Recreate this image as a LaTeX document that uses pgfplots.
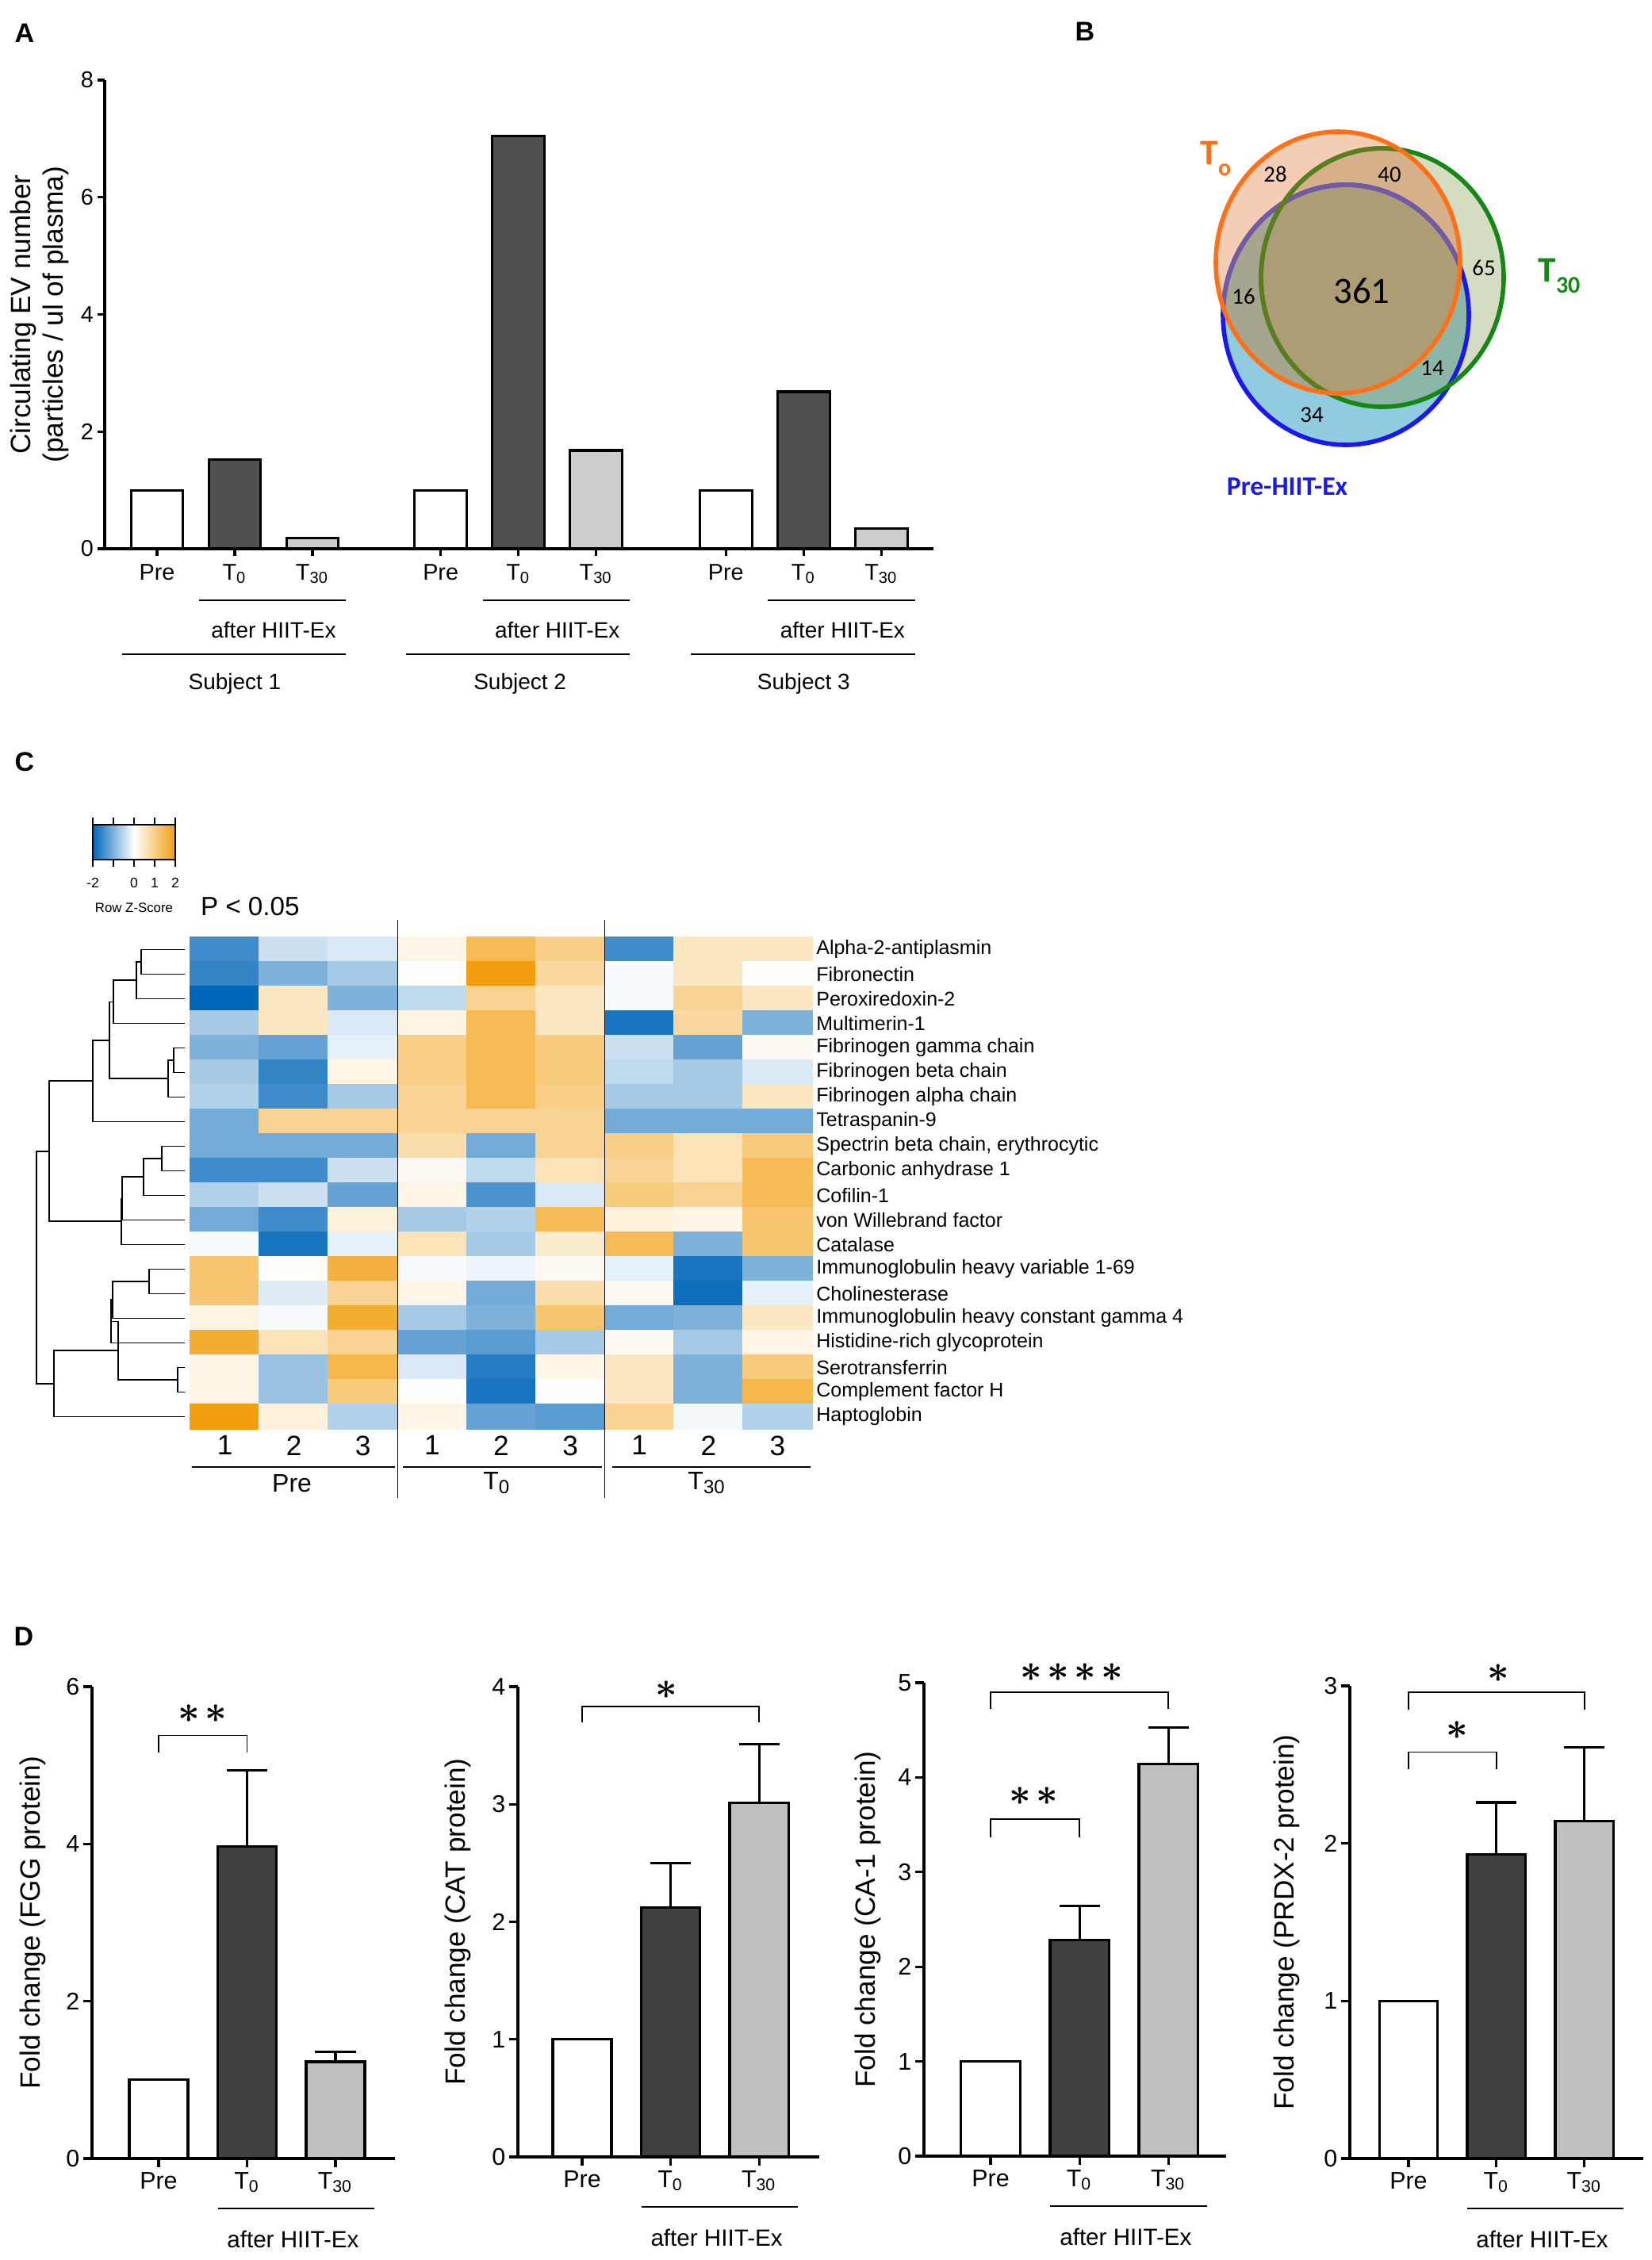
\documentclass[border=0pt]{standalone}
\usepackage{fontspec}
\setmainfont{Liberation Sans}
\newfontfamily\calibri{Carlito}
\usepackage{pgfplots}
\pgfplotsset{compat=1.18}

\definecolor{darkA}{RGB}{80,80,80}
\definecolor{lightA}{RGB}{204,204,204}
\definecolor{darkD}{RGB}{64,64,64}
\definecolor{lightD}{RGB}{191,191,191}
% venn
\definecolor{vO}{RGB}{255,112,24}
\definecolor{vG}{RGB}{22,135,22}
\definecolor{vB}{RGB}{25,25,235}
\definecolor{vBo}{RGB}{115,90,165}
\definecolor{vGo}{RGB}{90,125,32}
\definecolor{fO}{RGB}{243,205,180}
\definecolor{fG}{RGB}{212,221,194}
\definecolor{fB}{RGB}{145,203,224}
\definecolor{fBG}{RGB}{140,183,168}
\definecolor{fBO}{RGB}{166,165,142}
\definecolor{fGO}{RGB}{214,176,136}
\definecolor{fBGO}{RGB}{173,157,117}

\newcommand\fsz[1]{\fontsize{#1}{#1}\selectfont}
\newcommand\sub[1]{\textsubscript{#1}}
\newcommand\st{{\boldmath$\ast$}}
\newcommand\stsp{\hspace{1.6pt}}

\pgfplotsset{
  barax/.style={scale only axis, anchor=south west, ymin=0,
    axis lines=left, axis line style={-, line width=0.8pt},
    tick align=outside, tick style={black, line width=0.8pt},
    yticklabel style={inner sep=1pt},
    /pgf/number format/assume math mode=true,
    clip=false, ybar},
  Dax/.style={barax, major tick length=2.75pt,
    xtick={0,1,2}, xticklabels={Pre,T\sub{0},T\sub{30}},
    ticklabel style={font=\fsz{7.6}},
    xticklabel style={yshift=2pt},
    ylabel style={font=\fsz{8.8}, at={(axis description cs:#1,0.5)}, anchor=center},
    bar width=0.664},
  barline/.style={draw=black, line width=0.8pt, bar shift=0pt},
  errb/.style={error bars/.cd, y dir=plus, y explicit,
    error bar style={line width=0.8pt, black},
    error mark options={rotate=90, mark size=6.4pt, line width=0.8pt, black}},
  dendro/.style={black, line width=0.45pt, mark=none, forget plot},
}

\begin{document}
\begin{tikzpicture}
\useasboundingbox (0,0) rectangle (520.5pt,-712.5pt);

% ---------------- panel letters ----------------
\begin{scope}[x=0.25pt, y=-0.25pt]
\node[font=\bfseries\fsz{8.5}] at (31,42) {A};
\node[font=\bfseries\fsz{8.5}] at (1368,40) {B};
\node[font=\bfseries\fsz{8.5}] at (31,961) {C};
\node[font=\bfseries\fsz{8.5}] at (30,2064) {D};
\end{scope}

% ---------------- A ----------------
\begin{axis}[barax, at={(33pt,-173pt)}, width=261.25pt, height=147.75pt,
  xmin=-0.673, xmax=9.99, ymax=8, ytick={0,2,4,6,8},
  xtick={0,1,2,3.65,4.65,5.65,7.32,8.32,9.32},
  xticklabels={Pre,T\sub{0},T\sub{30},Pre,T\sub{0},T\sub{30},Pre,T\sub{0},T\sub{30}},
  major tick length=2.3pt, ticklabel style={font=\fsz{7.2}},
  xticklabel style={yshift=1pt},
  bar width=0.67,
  ylabel={Circulating EV number\\(particles / ul of plasma)},
  ylabel style={align=center, font=\fontsize{8.8}{10.2}\selectfont,
    at={(axis description cs:-0.0785,0.5)}, anchor=center}]
\addplot[barline, fill=white] coordinates {(0,1) (3.65,1) (7.32,1)};
\addplot[barline, fill=darkA] coordinates {(1,1.52) (4.65,7.05) (8.32,2.68)};
\addplot[barline, fill=lightA] coordinates {(2,0.18) (5.65,1.68) (9.32,0.35)};
\draw[line width=0.45pt] (axis cs:0.54,-0.88) -- (axis cs:2.43,-0.88);
\draw[line width=0.45pt] (axis cs:4.19,-0.88) -- (axis cs:6.08,-0.88);
\draw[line width=0.45pt] (axis cs:7.86,-0.88) -- (axis cs:9.75,-0.88);
\draw[line width=0.45pt] (axis cs:-0.45,-1.80) -- (axis cs:2.43,-1.80);
\draw[line width=0.45pt] (axis cs:3.20,-1.80) -- (axis cs:6.08,-1.80);
\draw[line width=0.45pt] (axis cs:6.87,-1.80) -- (axis cs:9.75,-1.80);
\node[font=\fsz{7}] at (axis cs:1.5,-1.39) {after HIIT-Ex};
\node[font=\fsz{7}] at (axis cs:5.15,-1.39) {after HIIT-Ex};
\node[font=\fsz{7}] at (axis cs:8.82,-1.39) {after HIIT-Ex};
\node[font=\fsz{7}] at (axis cs:1.0,-2.31) {Subject 1};
\node[font=\fsz{7}] at (axis cs:4.67,-2.31) {Subject 2};
\node[font=\fsz{7}] at (axis cs:8.32,-2.31) {Subject 3};
\end{axis}

% ---------------- B (Venn) ----------------
\begin{axis}[at={(362.5pt,-162.5pt)}, anchor=south west, scale only axis,
  width=150pt, height=125pt, xmin=1450, xmax=2050, ymin=150, ymax=650,
  y dir=reverse, hide axis, clip=false]
\def\eB{(axis cs:1697,397) ellipse [x radius=155, y radius=164]}
\def\eG{(axis cs:1743,350) ellipse [x radius=153, y radius=163]}
\def\eO{(axis cs:1687,331) ellipse [x radius=154, y radius=165]}
\fill[fB] \eB;
\fill[fG] \eG;
\fill[fO] \eO;
\begin{scope}\clip \eB; \fill[fBG] \eG; \end{scope}
\begin{scope}\clip \eB; \fill[fBO] \eO; \end{scope}
\begin{scope}\clip \eG; \fill[fGO] \eO; \end{scope}
\begin{scope}\clip \eB; \clip \eG; \fill[fBGO] \eO; \end{scope}
\draw[vB, line width=1.4pt] \eB;
\begin{scope}\clip \eO; \draw[vBo, line width=1.4pt] \eB; \end{scope}
\draw[vG, line width=1.4pt] \eG;
\begin{scope}\clip \eO; \draw[vGo, line width=1.4pt] \eG; \end{scope}
\draw[vO, line width=1.4pt] \eO;
\node[font=\calibri\fsz{7.2}] at (axis cs:1608,220) {28};
\node[font=\calibri\fsz{7.2}] at (axis cs:1752,220) {40};
\node[font=\calibri\fsz{11.7}] at (axis cs:1717,367) {361};
\node[font=\calibri\fsz{7.2}] at (axis cs:1871,338) {65};
\node[font=\calibri\fsz{7.2}] at (axis cs:1568,374) {16};
\node[font=\calibri\fsz{7.2}] at (axis cs:1806,464) {14};
\node[font=\calibri\fsz{7.2}] at (axis cs:1654,523) {34};
\node[font=\calibri\bfseries\fsz{11.3}, text=vO] at (axis cs:1533,200)
  {T\raisebox{-0.3em}{\fsz{7.5}o}};
\node[font=\calibri\bfseries\fsz{11.3}, text=vG] at (axis cs:1966,348)
  {T\raisebox{-0.3em}{\fsz{7.5}30}};
\node[font=\calibri\bfseries\fsz{8.4}, text=vB] at (axis cs:1623,614) {Pre-HIIT-Ex};
\end{axis}

% ---------------- C (dendrogram) ----------------
\begin{axis}[at={(7.5pt,-450.5pt)}, anchor=south west, scale only axis,
  width=52.5pt, height=155pt, xmin=30, xmax=240, ymin=0.5, ymax=20.5,
  y dir=reverse, hide axis, clip=false]
\addplot[dendro] coordinates {(233,1) (178,1) (178,2) (233,2)};
\addplot[dendro] coordinates {(178,1.5) (172,1.5) (172,3) (233,3)};
\addplot[dendro] coordinates {(172,2.25) (143,2.25) (143,4) (233,4)};
\addplot[dendro] coordinates {(233,5) (219,5) (219,6) (233,6)};
\addplot[dendro] coordinates {(219,5.5) (212,5.5) (212,7) (233,7)};
\addplot[dendro] coordinates {(143,3.125) (138,3.125) (138,6.25) (212,6.25)};
\addplot[dendro] coordinates {(138,4.69) (117,4.69) (117,8) (233,8)};
\addplot[dendro] coordinates {(233,9) (204,9) (204,10) (233,10)};
\addplot[dendro] coordinates {(204,9.5) (181,9.5) (181,11) (233,11)};
\addplot[dendro] coordinates {(181,10.25) (154,10.25) (154,12) (233,12)};
\addplot[dendro] coordinates {(154,11.125) (153,11.125) (153,13) (233,13)};
\addplot[dendro] coordinates {(117,6.34) (62,6.34) (62,12.06) (153,12.06)};
\addplot[dendro] coordinates {(233,14) (188,14) (188,15) (233,15)};
\addplot[dendro] coordinates {(188,14.5) (142,14.5) (142,16) (233,16)};
\addplot[dendro] coordinates {(142,15.25) (140,15.25) (140,17) (233,17)};
\addplot[dendro] coordinates {(233,18) (224,18) (224,19) (233,19)};
\addplot[dendro] coordinates {(140,16.125) (149,16.125) (149,18.5) (224,18.5)};
\addplot[dendro] coordinates {(149,17.31) (68,17.31) (68,20) (233,20)};
\addplot[dendro] coordinates {(62,9.2) (46,9.2) (46,18.66) (68,18.66)};
\end{axis}

% ---------------- C (heatmap) ----------------
\begin{axis}[at={(60pt,-450.5pt)}, anchor=south west, scale only axis,
  width=196pt, height=155pt, xmin=0.5, xmax=9.5, ymin=0.5, ymax=20.5,
  y dir=reverse, axis line style={draw=none}, major tick length=0pt,
  xtick={1,...,9}, xticklabels={1,2,3,1,2,3,1,2,3},
  xticklabel style={font=\fsz{8.8}, yshift=1.4pt},
  ytick={1,...,20}, yticklabel pos=right,
  yticklabel style={font=\fsz{6.25}, anchor=west, xshift=-2.2pt},
  yticklabels={Alpha-2-antiplasmin, Fibronectin, Peroxiredoxin-2, Multimerin-1,
    Fibrinogen gamma chain, Fibrinogen beta chain, Fibrinogen alpha chain,
    Tetraspanin-9, {Spectrin beta chain, erythrocytic}, Carbonic anhydrase 1,
    Cofilin-1, von Willebrand factor, Catalase,
    Immunoglobulin heavy variable 1-69, Cholinesterase,
    Immunoglobulin heavy constant gamma 4, Histidine-rich glycoprotein,
    Serotransferrin, Complement factor H, Haptoglobin},
  colormap={zs}{rgb255(0pt)=(0,102,184); rgb255(1pt)=(255,255,255); rgb255(2pt)=(242,158,15)},
  point meta min=-2, point meta max=2,
  colorbar horizontal,
  colorbar style={at={(parent axis.north west)}, anchor=south west,
    xshift=-30.75pt, yshift=33pt, width=26pt, height=11pt,
    xtick={-2,-1,0,1,2}, xticklabels={-2,,0,1,2},
    xticklabel style={font=\fsz{4.4}},
    xlabel={Row Z-Score}, xlabel style={font=\fsz{4.2}, yshift=2pt},
    major tick length=2.25pt, tick align=outside,
    tick style={black, line width=0.4pt}, axis line style={line width=0.4pt},
    /pgf/number format/assume math mode=true},
  clip=false]
\addplot[matrix plot*, mesh/cols=9, point meta=explicit]
  table[x=x, y=y, meta=z, row sep=\\] {
x y z\\
1 1 -1.5\\ 2 1 -0.4\\ 3 1 -0.3\\ 4 1 0.2\\ 5 1 1.4\\ 6 1 1.0\\ 7 1 -1.5\\ 8 1 0.5\\ 9 1 0.5\\
1 2 -1.6\\ 2 2 -1.0\\ 3 2 -0.7\\ 4 2 0.03\\ 5 2 2.0\\ 6 2 0.8\\ 7 2 -0.05\\ 8 2 0.5\\ 9 2 0.05\\
1 3 -2.0\\ 2 3 0.5\\ 3 3 -1.0\\ 4 3 -0.5\\ 5 3 0.9\\ 6 3 0.5\\ 7 3 -0.05\\ 8 3 0.9\\ 9 3 0.5\\
1 4 -0.7\\ 2 4 0.5\\ 3 4 -0.3\\ 4 4 0.25\\ 5 4 1.4\\ 6 4 0.5\\ 7 4 -1.8\\ 8 4 0.8\\ 9 4 -1.0\\
1 5 -1.0\\ 2 5 -1.2\\ 3 5 -0.2\\ 4 5 1.0\\ 5 5 1.4\\ 6 5 1.1\\ 7 5 -0.4\\ 8 5 -1.2\\ 9 5 0.1\\
1 6 -0.7\\ 2 6 -1.6\\ 3 6 0.2\\ 4 6 1.0\\ 5 6 1.4\\ 6 6 1.1\\ 7 6 -0.5\\ 8 6 -0.7\\ 9 6 -0.3\\
1 7 -0.6\\ 2 7 -1.5\\ 3 7 -0.7\\ 4 7 0.9\\ 5 7 1.4\\ 6 7 1.0\\ 7 7 -0.7\\ 8 7 -0.7\\ 9 7 0.5\\
1 8 -1.1\\ 2 8 0.9\\ 3 8 0.9\\ 4 8 0.9\\ 5 8 0.9\\ 6 8 0.9\\ 7 8 -1.1\\ 8 8 -1.1\\ 9 8 -1.1\\
1 9 -1.1\\ 2 9 -1.1\\ 3 9 -1.1\\ 4 9 0.7\\ 5 9 -1.1\\ 6 9 0.9\\ 7 9 1.0\\ 8 9 0.6\\ 9 9 1.1\\
1 10 -1.5\\ 2 10 -1.5\\ 3 10 -0.4\\ 4 10 0.1\\ 5 10 -0.5\\ 6 10 0.6\\ 7 10 0.9\\ 8 10 0.6\\ 9 10 1.4\\
1 11 -0.6\\ 2 11 -0.4\\ 3 11 -1.2\\ 4 11 0.2\\ 5 11 -1.4\\ 6 11 -0.3\\ 7 11 1.1\\ 8 11 0.9\\ 9 11 1.4\\
1 12 -1.1\\ 2 12 -1.5\\ 3 12 0.3\\ 4 12 -0.7\\ 5 12 -0.6\\ 6 12 1.4\\ 7 12 0.3\\ 8 12 0.2\\ 9 12 1.2\\
1 13 -0.05\\ 2 13 -1.8\\ 3 13 -0.2\\ 4 13 0.6\\ 5 13 -0.7\\ 6 13 0.4\\ 7 13 1.4\\ 8 13 -1.0\\ 9 13 1.2\\
1 14 1.2\\ 2 14 0.05\\ 3 14 1.6\\ 4 14 -0.05\\ 5 14 -0.15\\ 6 14 0.1\\ 7 14 -0.2\\ 8 14 -1.8\\ 9 14 -1.0\\
1 15 1.2\\ 2 15 -0.25\\ 3 15 0.9\\ 4 15 0.2\\ 5 15 -1.1\\ 6 15 0.7\\ 7 15 0.1\\ 8 15 -1.9\\ 9 15 -0.2\\
1 16 0.25\\ 2 16 -0.05\\ 3 16 1.7\\ 4 16 -0.7\\ 5 16 -1.0\\ 6 16 1.2\\ 7 16 -1.1\\ 8 16 -1.0\\ 9 16 0.5\\
1 17 1.7\\ 2 17 0.6\\ 3 17 0.9\\ 4 17 -1.2\\ 5 17 -1.3\\ 6 17 -0.7\\ 7 17 0.1\\ 8 17 -0.7\\ 9 17 0.2\\
1 18 0.2\\ 2 18 -0.8\\ 3 18 1.5\\ 4 18 -0.3\\ 5 18 -1.7\\ 6 18 0.2\\ 7 18 0.5\\ 8 18 -1.0\\ 9 18 1.1\\
1 19 0.2\\ 2 19 -0.8\\ 3 19 1.1\\ 4 19 0.02\\ 5 19 -1.8\\ 6 19 0.02\\ 7 19 0.5\\ 8 19 -1.0\\ 9 19 1.5\\
1 20 2.0\\ 2 20 0.3\\ 3 20 -0.6\\ 4 20 0.2\\ 5 20 -1.2\\ 6 20 -1.3\\ 7 20 0.9\\ 8 20 -0.1\\ 9 20 -0.6\\
};
\draw[line width=0.3pt] (axis cs:3.5,-0.21) -- (axis cs:3.5,23.3);
\draw[line width=0.3pt] (axis cs:6.5,-0.21) -- (axis cs:6.5,23.3);
\draw[line width=0.55pt] (axis cs:0.52,22.05) -- (axis cs:3.46,22.05);
\draw[line width=0.55pt] (axis cs:3.58,22.05) -- (axis cs:6.46,22.05);
\draw[line width=0.55pt] (axis cs:6.61,22.05) -- (axis cs:9.48,22.05);
\node[font=\fsz{8}] at (axis cs:1.97,22.7) {Pre};
\node[font=\fsz{8}] at (axis cs:4.94,22.7) {T\sub{0}};
\node[font=\fsz{8}] at (axis cs:7.98,22.7) {T\sub{30}};
\node[font=\fsz{8.3}, anchor=west, inner sep=0pt] at (axis cs:0.64,-0.76) {P < 0.05};
\end{axis}

% ---------------- D1 ----------------
\begin{axis}[Dax=-0.194, at={(29pt,-680.5pt)}, width=95.5pt, height=148.75pt,
  xmin=-0.753, xmax=2.673, ymax=6, ytick={0,2,4,6},
  ylabel={Fold change (FGG protein)}]
\addplot[barline, fill=white] coordinates {(0,1)};
\addplot[barline, fill=darkD, errb] coordinates {(1,3.97) +- (0,0.97)};
\addplot[barline, fill=lightD, errb] coordinates {(2,1.23) +- (0,0.13)};
\draw[line width=0.45pt] (axis cs:0,5.16) -- (axis cs:0,5.38) -- (axis cs:1,5.38) -- (axis cs:1,5.16);
\node[font=\fsz{12}] at (axis cs:0.5,5.66) {\st\stsp\st};
\draw[line width=0.45pt] ({axis cs:0.67,0} |- {axis description cs:0,-0.106}) -- ({axis cs:2.44,0} |- {axis description cs:0,-0.106});
\node[font=\fsz{7.4}] at ({axis cs:1.52,0} |- {axis description cs:0,-0.171}) {after HIIT-Ex};
\end{axis}

% ---------------- D2 ----------------
\begin{axis}[Dax=-0.2, at={(163.25pt,-680pt)}, width=95pt, height=148.25pt,
  xmin=-0.726, xmax=2.68, ymax=4, ytick={0,1,2,3,4},
  ylabel={Fold change (CAT protein)}]
\addplot[barline, fill=white] coordinates {(0,1)};
\addplot[barline, fill=darkD, errb] coordinates {(1,2.12) +- (0,0.38)};
\addplot[barline, fill=lightD, errb] coordinates {(2,3.01) +- (0,0.50)};
\draw[line width=0.45pt] (axis cs:0,3.70) -- (axis cs:0,3.83) -- (axis cs:2,3.83) -- (axis cs:2,3.70);
\node[font=\fsz{12}] at (axis cs:0.95,3.97) {\st};
\draw[line width=0.45pt] ({axis cs:0.67,0} |- {axis description cs:0,-0.106}) -- ({axis cs:2.44,0} |- {axis description cs:0,-0.106});
\node[font=\fsz{7.4}] at ({axis cs:1.52,0} |- {axis description cs:0,-0.171}) {after HIIT-Ex};
\end{axis}

% ---------------- D3 ----------------
\begin{axis}[Dax=-0.186, at={(291.25pt,-679.75pt)}, width=95.25pt, height=149.25pt,
  xmin=-0.75, xmax=2.65, ymax=5, ytick={0,1,2,3,4,5},
  ylabel={Fold change (CA-1 protein)}]
\addplot[barline, fill=white] coordinates {(0,1)};
\addplot[barline, fill=darkD, errb] coordinates {(1,2.28) +- (0,0.36)};
\addplot[barline, fill=lightD, errb] coordinates {(2,4.14) +- (0,0.39)};
\draw[line width=0.45pt] (axis cs:0,3.37) -- (axis cs:0,3.56) -- (axis cs:1,3.56) -- (axis cs:1,3.37);
\node[font=\fsz{12}] at (axis cs:0.48,3.80) {\st\stsp\st};
\draw[line width=0.45pt] (axis cs:0,4.72) -- (axis cs:0,4.90) -- (axis cs:2,4.90) -- (axis cs:2,4.72);
\node[font=\fsz{12}] at (axis cs:0.91,5.11) {\st\stsp\st\stsp\st\stsp\st};
\draw[line width=0.45pt] ({axis cs:0.67,0} |- {axis description cs:0,-0.106}) -- ({axis cs:2.44,0} |- {axis description cs:0,-0.106});
\node[font=\fsz{7.4}] at ({axis cs:1.52,0} |- {axis description cs:0,-0.171}) {after HIIT-Ex};
\end{axis}

% ---------------- D4 ----------------
\begin{axis}[Dax=-0.214, at={(425.5pt,-680.5pt)}, width=92.5pt, height=149pt,
  xmin=-0.667, xmax=2.67, ymax=3, ytick={0,1,2,3},
  ylabel={Fold change (PRDX-2 protein)}]
\addplot[barline, fill=white] coordinates {(0,1)};
\addplot[barline, fill=darkD, errb] coordinates {(1,1.93) +- (0,0.33)};
\addplot[barline, fill=lightD, errb] coordinates {(2,2.14) +- (0,0.47)};
\draw[line width=0.45pt] (axis cs:0,2.47) -- (axis cs:0,2.58) -- (axis cs:1,2.58) -- (axis cs:1,2.47);
\node[font=\fsz{12}] at (axis cs:0.55,2.72) {\st};
\draw[line width=0.45pt] (axis cs:0,2.85) -- (axis cs:0,2.96) -- (axis cs:2,2.96) -- (axis cs:2,2.85);
\node[font=\fsz{12}] at (axis cs:1.02,3.08) {\st};
\draw[line width=0.45pt] ({axis cs:0.67,0} |- {axis description cs:0,-0.106}) -- ({axis cs:2.44,0} |- {axis description cs:0,-0.106});
\node[font=\fsz{7.4}] at ({axis cs:1.52,0} |- {axis description cs:0,-0.171}) {after HIIT-Ex};
\end{axis}
\end{tikzpicture}
\end{document}
